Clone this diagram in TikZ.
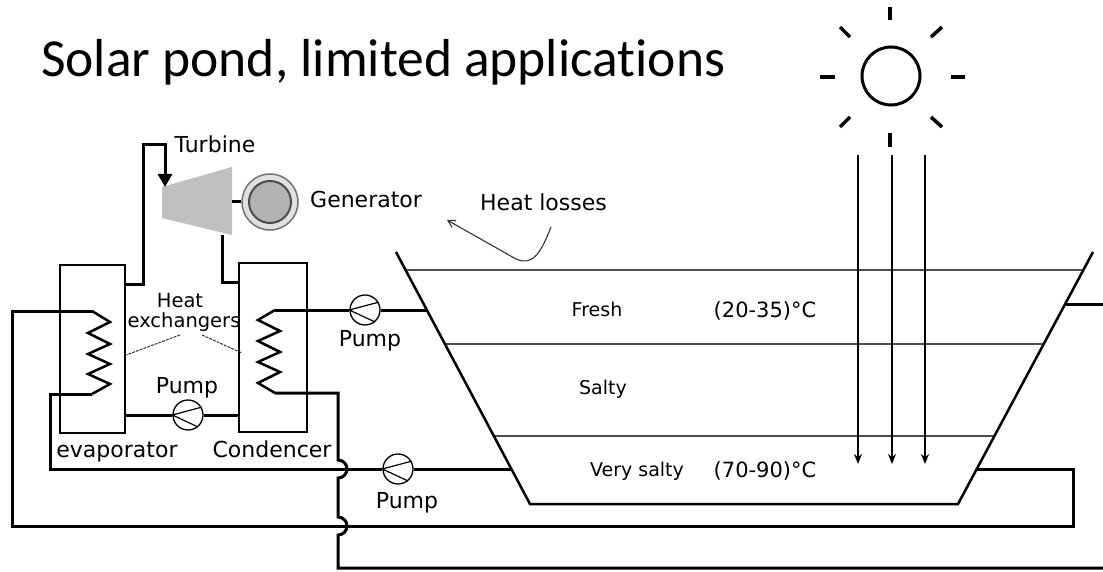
\documentclass[tikz,border=0pt]{standalone}
\usepackage{fontspec}
\setmainfont{DejaVu Sans}
\newfontfamily\titlefont[Ligatures=NoCommon]{Carlito}
\usetikzlibrary{arrows.meta}
\begin{document}
\begin{tikzpicture}[x=1pt,y=-1pt,
  pipe/.style={line width=3pt, line join=miter},
  box/.style={draw, line width=2pt, inner sep=0pt},
  layer/.style={line width=2pt, draw=black!70},
  pondedge/.style={line width=2.5pt, line join=miter},
  lbl/.style={font=\fontsize{22}{26}\selectfont, inner sep=0pt},
  small/.style={font=\fontsize{19}{23}\selectfont, inner sep=0pt},
  hx/.style={font=\fontsize{19.5}{23}\selectfont, inner sep=0pt},
  temp/.style={font=\fontsize{21}{25}\selectfont, inner sep=0pt},
  pumpsym/.style={circle, draw, line width=1.3pt, minimum size=30pt, inner sep=0pt, fill=white},
  beam/.style={line width=1.8pt, -{Stealth[length=10pt,width=8pt]}},
  ray/.style={line width=3.5pt},
  leader/.style={line width=1pt, draw=black!80, dash pattern=on 3pt off 1pt}
]
\fill[white] (0,0) rectangle (1103,572);
\useasboundingbox (0,0) rectangle (1103,572);

% title
\node[anchor=base west, inner sep=0pt, font=\titlefont\fontsize{53.5}{60}\selectfont] (title) at (41,77) {Solar pond, limited applications};

% sun
\node[circle, draw, line width=3pt, minimum size=58pt, inner sep=0pt] (sun) at (891,76) {};
\draw[ray] (890,7) -- (890,20);
\draw[ray] (890,133) -- (890,147);
\draw[ray] (820,77) -- (835,77);
\draw[ray] (951,77) -- (965,77);
\draw[ray] (840,27) -- (850,37);
\draw[ray] (931,37) -- (942,27);
\draw[ray] (840,127) -- (850,117);
\draw[ray] (931,117) -- (942,127);

% pond
\coordinate (pTL) at (396,252);
\coordinate (pBL) at (530,504);
\coordinate (pBR) at (958,504);
\coordinate (pTR) at (1093,252);
\draw[layer] (405.6,270) -- (1083,270);
\draw[layer] (445,344) -- (1043.5,344);
\draw[layer] (494,436) -- (994,436);
\draw[pondedge] (pTL) -- (pBL) -- (pBR) -- (pTR);

% beams
\coordinate (b1s) at (858,155); \coordinate (b1e) at (858,464);
\coordinate (b2s) at (892,155); \coordinate (b2e) at (892,464);
\coordinate (b3s) at (925,155); \coordinate (b3e) at (925,464);
\draw[beam] (b1s) -- (b1e);
\draw[beam] (b2s) -- (b2e);
\draw[beam] (b3s) -- (b3e);

% heat exchanger boxes
\node[box, minimum width=65pt, minimum height=168pt] (evap) at (92.5,349) {};
\node[box, minimum width=68pt, minimum height=169pt] (cond) at (273,347.5) {};

% coils
\coordinate (ecT) at (92,311); \coordinate (ecB) at (92,394);
\coordinate (ccT) at (275,310); \coordinate (ccB) at (275,393);
\draw[line width=2.5pt, line join=miter] (ecT) -- (110,322) -- (88,333) -- (110,344) -- (88,354) -- (110,364) -- (88,374) -- (110,384) -- (ecB);
\draw[line width=2.5pt, line join=miter] (ccT) -- (258,320) -- (280,331) -- (258,341) -- (280,352) -- (258,362) -- (280,372) -- (258,383) -- (ccB);

% pumps
\node[pumpsym] (pump1) at (188,415) {};
\node[pumpsym] (pump2) at (365,310) {};
\node[pumpsym] (pump3) at (398,469) {};
\foreach \p in {pump1,pump2,pump3}{\draw[line width=1.2pt] (\p.30) -- (\p.west) -- (\p.-50);}

% pond connection points
\coordinate (pL1) at (427,310);
\coordinate (pL2) at (512,469);
\coordinate (pR1) at (1065,304);
\coordinate (pR2) at (976,469);
\coordinate (outR) at (1103,304);
\coordinate (outB) at (1103,568);

% pipes
\draw[pipe] (125,415) -- (pump1.west);
\draw[pipe] (pump1.east) -- (239,415);
\draw[pipe] (ccT) -- (pump2.west);
\draw[pipe] (pump2.east) -- (pL1);
\draw[pipe] (ecB) -- (50,394) -- (50,469) -- (pump3.west);
\draw[pipe] (pump3.east) -- (pL2);
\draw[pipe] (ecT) -- (12,311) -- (12,526) -- (1073,526) -- (1073,469) -- (pR2);
\draw[pipe] (ccB) -- (338,393) -- (338,460) arc[start angle=-90, end angle=90, radius=9] -- (338,517) arc[start angle=-90, end angle=90, radius=9] -- (338,568) -- (outB);
\draw[pipe] (pR1) -- (outR);

% turbine
\coordinate (tA) at (162,187);
\coordinate (tB) at (232,167);
\coordinate (tC) at (232,235);
\coordinate (tD) at (162,218);
\fill[black!25] (tA) -- (tB) -- (tC) -- (tD) -- cycle;
\draw[pipe, -{Triangle[length=13pt,width=14pt]}] (125,284) -- (143,284) -- (143,145) -- (165,145) -- (165,187);
\draw[pipe] (222,235) -- (222,282) -- (239,282);

% generator
\node[circle, draw=black!55, line width=1.5pt, fill=black!12, minimum size=56pt, inner sep=0pt] (gen) at (270,202) {};
\node[circle, draw=black!70, line width=2pt, fill=black!30, minimum size=42pt, inner sep=0pt] (genin) at (gen) {};
\draw[line width=3pt] (232,202) -- (gen.west);

% labels
\node[lbl, anchor=base] (tlab) at (215,153) {Turbine};
\node[lbl, anchor=base west] (glab) at (310,208) {Generator};
\node[lbl, anchor=base west] (hl) at (480,211) {Heat losses};
\node[hx, anchor=base] (hxa) at (180,307) {Heat};
\node[hx, anchor=base] (hxb) at (184,327) {exchangers};
\node[lbl, anchor=base] (pl1) at (187,393) {Pump};
\node[lbl, anchor=base] (pl2) at (370,346) {Pump};
\node[lbl, anchor=base] (pl3) at (407,508) {Pump};
\node[lbl, anchor=base] (evl) at (117,457) {evaporator};
\node[lbl, anchor=base] (col) at (272,457) {Condencer};
\node[small, anchor=base] (fr) at (597,316) {Fresh};
\node[small, anchor=base] (sa) at (603,394) {Salty};
\node[small, anchor=base] (vs) at (637,476) {Very salty};
\node[temp, anchor=base] (t1) at (765,317) {(20-35)°C};
\node[temp, anchor=base] (t2) at (765,477) {(70-90)°C};

% leader lines
\coordinate (ld1) at (126,355);
\coordinate (ld2) at (242,353);
\draw[leader] (180,335) -- (ld1);
\draw[leader] (202,335) -- (ld2);

% heat losses arrow
\draw[line width=1.1pt, draw=black!80, -{Straight Barb[length=7pt,width=8pt]}] (551,227) .. controls (540,255) and (532,266) .. (516,259) -- (447,220);
\end{tikzpicture}
\end{document}
